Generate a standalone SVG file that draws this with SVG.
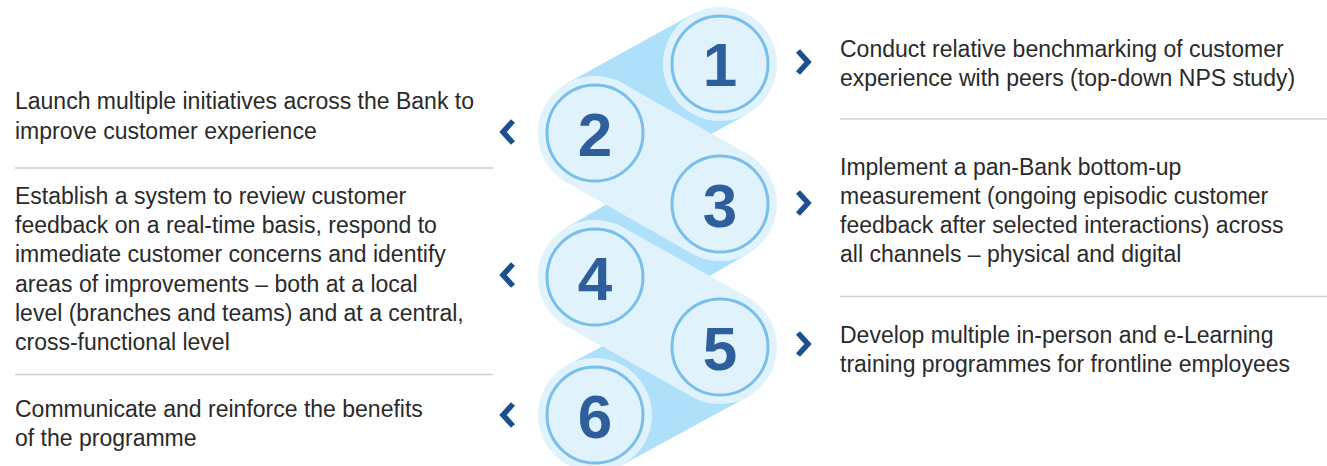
<svg xmlns="http://www.w3.org/2000/svg" width="1327" height="466" viewBox="0 0 1327 466">
<style>
.t{font-family:"Liberation Sans",Arial,sans-serif;font-size:23px;fill:#2a2a2a}
.num{font-family:"Liberation Sans",Arial,sans-serif;font-weight:bold;font-size:62px;fill:#2f5e9c;text-anchor:middle}
.halo{fill:#e0f2fc}
.ring{fill:none;stroke:#79bfea;stroke-width:3}
.dark{fill:#aee1f9}
.light{fill:#e0f2fc}
.chev{fill:none;stroke:#1c4f8f;stroke-width:5.5;stroke-linejoin:miter;stroke-linecap:butt}
.sep{stroke:#cfcfcf;stroke-width:1.6}
</style>
<rect width="1327" height="466" fill="#ffffff"/>
<g id="connectors">
<polygon class="dark" points="747.55,113.9 622.55,182.9 567.45,83.1 692.45,14.1"/>
<polygon class="dark" points="748.75,253.22 623.75,326.22 566.25,227.78 691.25,154.78"/>
<polygon class="dark" points="747.24,397.07 622.24,465.07 567.76,364.93 692.76,296.93"/>
<polygon class="light" points="566.85,182.56 691.85,253.56 748.15,154.44 623.15,83.44"/>
<polygon class="light" points="567.15,326.73 692.15,396.73 747.85,297.27 622.85,227.27"/>
</g>
<g id="node1">
<circle class="halo" cx="720" cy="64" r="57"/>
<circle class="ring" cx="720" cy="64" r="48"/>
<text class="num" x="720" y="86">1</text>
<path class="chev" d="M798,51 L808,62 L798,73"/>
<text class="t"><tspan x="840" y="56.5">Conduct relative benchmarking of customer</tspan><tspan x="840" y="85.5">experience with peers (top-down NPS study)</tspan></text>
</g>
<g id="node2">
<circle class="halo" cx="595" cy="133" r="57"/>
<circle class="ring" cx="595" cy="133" r="48"/>
<text class="num" x="595" y="155.5">2</text>
<path class="chev" d="M513,121 L503,132 L513,143"/>
<text class="t"><tspan x="15" y="109.3">Launch multiple initiatives across the Bank to</tspan><tspan x="15" y="138.8">improve customer experience</tspan></text>
</g>
<g id="node3">
<circle class="halo" cx="720" cy="204" r="57"/>
<circle class="ring" cx="720" cy="204" r="48"/>
<text class="num" x="720" y="226.5">3</text>
<path class="chev" d="M798,192 L808,203 L798,214"/>
<text class="t"><tspan x="840" y="175">Implement a pan-Bank bottom-up</tspan><tspan x="840" y="204">measurement (ongoing episodic customer</tspan><tspan x="840" y="233">feedback after selected interactions) across</tspan><tspan x="840" y="262">all channels – physical and digital</tspan></text>
</g>
<g id="node4">
<circle class="halo" cx="595" cy="277" r="57"/>
<circle class="ring" cx="595" cy="277" r="48"/>
<text class="num" x="595" y="299.5">4</text>
<path class="chev" d="M513,264 L503,275 L513,286"/>
<text class="t"><tspan x="15" y="204">Establish a system to review customer</tspan><tspan x="15" y="233.2">feedback on a real-time basis, respond to</tspan><tspan x="15" y="262.4">immediate customer concerns and identify</tspan><tspan x="15" y="291.6">areas of improvements – both at a local</tspan><tspan x="15" y="320.8">level (branches and teams) and at a central,</tspan><tspan x="15" y="350">cross-functional level</tspan></text>
</g>
<g id="node5">
<circle class="halo" cx="720" cy="347" r="57"/>
<circle class="ring" cx="720" cy="347" r="48"/>
<text class="num" x="720" y="369.5">5</text>
<path class="chev" d="M798,333 L808,344 L798,355"/>
<text class="t"><tspan x="840" y="343">Develop multiple in-person and e-Learning</tspan><tspan x="840" y="372">training programmes for frontline employees</tspan></text>
</g>
<g id="node6">
<circle class="halo" cx="595" cy="415" r="57"/>
<circle class="ring" cx="595" cy="415" r="48"/>
<text class="num" x="595" y="437.5">6</text>
<path class="chev" d="M513,404 L503,415 L513,426"/>
<text class="t"><tspan x="15" y="416.7">Communicate and reinforce the benefits</tspan><tspan x="15" y="446">of the programme</tspan></text>
</g>
<g id="separators">
<line class="sep" x1="15" y1="168" x2="493" y2="168"/>
<line class="sep" x1="15" y1="374.5" x2="493" y2="374.5"/>
<line class="sep" x1="840" y1="119" x2="1327" y2="119"/>
<line class="sep" x1="840" y1="296.5" x2="1327" y2="296.5"/>
</g>
</svg>
